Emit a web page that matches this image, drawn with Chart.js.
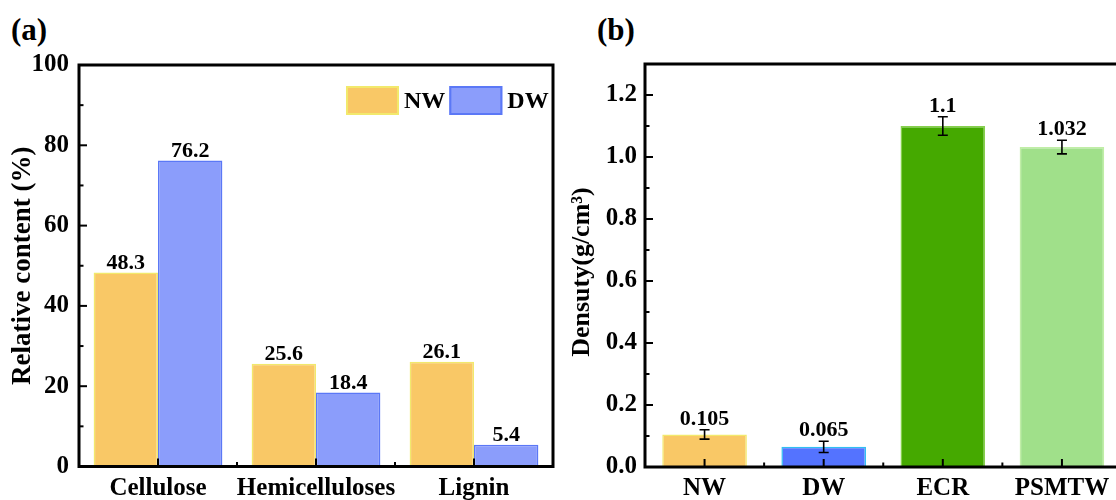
<!DOCTYPE html>
<html>
<head>
<meta charset="utf-8">
<script src="https://cdn.jsdelivr.net/npm/chart.js@4/dist/chart.umd.min.js"></script>
<style>
  html, body { margin:0; padding:0; background:#fff; }
  body { width:1116px; height:500px; overflow:hidden; position:relative; }
  canvas { position:absolute; top:0; }
  .panel { position:absolute; font-family:'Liberation Serif','Times New Roman',serif; font-weight:bold; font-size:31px; line-height:31px; color:#000; }
</style>
</head>
<body>
<div class="panel" style="left:11px;top:14px;">(a)</div>
<div class="panel" style="left:597px;top:14px;">(b)</div>
<canvas id="ca" width="560" height="500" style="left:0"></canvas>
<canvas id="cb" width="570" height="500" style="left:560px"></canvas>
<script>
// ---------- data ----------
const partCategories = ['Cellulose', 'Hemicelluloses', 'Lignin'];
const nwContent = [48.3, 25.6, 26.1];
const dwContent = [76.2, 18.4, 5.4];
const contentTicks = [0, 20, 40, 60, 80, 100];

const densityCategories = ['NW', 'DW', 'ECR', 'PSMTW'];
const densityValues = [0.105, 0.065, 1.1, 1.032];
const densityErrors = [0.015, 0.018, 0.03, 0.022];
const densityTicks = [0.0, 0.2, 0.4, 0.6, 0.8, 1.0, 1.2];
const densityTickLabels = ['0.0', '0.2', '0.4', '0.6', '0.8', '1.0', '1.2'];

// ---------- styling ----------
const FAMILY = "'Liberation Serif','Times New Roman',serif";
const tickFont = { family: FAMILY, weight: 'bold', size: 25 };

// plugin: frame, inward ticks, error bars, value labels, legend
const decorPlugin = {
  id: 'decor',
  afterDatasetsDraw(chart, args, opts) {
    const { ctx, chartArea: a, scales } = chart;
    const x = scales.x, y = scales.y;
    ctx.save();
    ctx.strokeStyle = '#000';
    ctx.fillStyle = '#000';

    // error bars
    if (opts.errors) {
      ctx.lineWidth = 1.6;
      const vals = chart.data.datasets[0].data;
      opts.errors.forEach((e, i) => {
        const px = x.getPixelForValue(i);
        const yt = y.getPixelForValue(vals[i] + e);
        const yb = y.getPixelForValue(vals[i] - e);
        ctx.beginPath();
        ctx.moveTo(px, yt); ctx.lineTo(px, yb);
        ctx.moveTo(px - 5, yt); ctx.lineTo(px + 5, yt);
        ctx.moveTo(px - 5, yb); ctx.lineTo(px + 5, yb);
        ctx.stroke();
      });
    }

    // value labels
    ctx.font = 'bold 22px ' + FAMILY;
    ctx.textAlign = 'center';
    ctx.textBaseline = 'alphabetic';
    chart.data.datasets.forEach((ds, di) => {
      const meta = chart.getDatasetMeta(di);
      meta.data.forEach((bar, i) => {
        let top = bar.y;
        if (opts.errors) top = y.getPixelForValue(ds.data[i] + opts.errors[i]);
        const txt = opts.labels ? opts.labels[i] : String(ds.data[i]);
        ctx.fillText(txt, bar.x, top - (opts.errors ? 5 : 4));
      });
    });

    // inward ticks
    ctx.lineWidth = 2;
    const yt = y.ticks.map(t => t.value);
    yt.forEach((v, i) => {
      const py = y.getPixelForValue(v);
      if (py > a.top + 2 && py < a.bottom - 2) {
        ctx.beginPath(); ctx.moveTo(a.left, py); ctx.lineTo(a.left + 8, py); ctx.stroke();
      }
      if (i < yt.length - 1) {
        const pm = y.getPixelForValue((v + yt[i + 1]) / 2);
        ctx.beginPath(); ctx.moveTo(a.left, pm); ctx.lineTo(a.left + 4.5, pm); ctx.stroke();
      }
    });
    const n = chart.data.labels.length;
    for (let i = 0; i < n; i++) {
      const px = x.getPixelForTick(i);
      ctx.beginPath(); ctx.moveTo(px, a.bottom); ctx.lineTo(px, a.bottom - 8); ctx.stroke();
      if (i < n - 1) {
        const pm = (px + x.getPixelForTick(i + 1)) / 2;
        ctx.beginPath(); ctx.moveTo(pm, a.bottom); ctx.lineTo(pm, a.bottom - 4.5); ctx.stroke();
      }
    }

    // frame
    ctx.lineWidth = 3;
    ctx.strokeRect(a.left, a.top, a.right - a.left, a.bottom - a.top);

    // legend
    if (opts.legend) {
      const L = opts.legend;
      let lx = a.right - L.fromRight;
      const ly = a.top + L.top;
      ctx.font = 'bold 24px ' + FAMILY;
      ctx.textAlign = 'left';
      ctx.textBaseline = 'middle';
      chart.data.datasets.forEach(ds => {
        ctx.fillStyle = ds.backgroundColor;
        ctx.fillRect(lx, ly, L.boxW, L.boxH);
        ctx.strokeStyle = ds.borderColor;
        ctx.lineWidth = 2;
        ctx.strokeRect(lx + 1, ly + 1, L.boxW - 2, L.boxH - 2);
        ctx.fillStyle = '#000';
        ctx.fillText(ds.label, lx + L.boxW + 5, ly + L.boxH / 2 + 1);
        lx += L.boxW + 5 + ctx.measureText(ds.label).width + 4;
      });
    }
    ctx.restore();
  }
};

// ---------- chart (a) ----------
new Chart(document.getElementById('ca'), {
  type: 'bar',
  data: {
    labels: partCategories,
    datasets: [
      { label: 'NW', data: nwContent, backgroundColor: '#F9C866', borderColor: '#F2E96C', borderWidth: 1.5,
        categoryPercentage: 0.815, barPercentage: 1.0 },
      { label: 'DW', data: dwContent, backgroundColor: '#8B9DFB', borderColor: '#5B78F6', borderWidth: 1.5,
        categoryPercentage: 0.815, barPercentage: 1.0 }
    ]
  },
  options: {
    responsive: false, animation: false, devicePixelRatio: 1,
    layout: { padding: { left: 0, top: 65, right: 7, bottom: 0 } },
    plugins: {
      legend: { display: false }, tooltip: { enabled: false },
      decor: { legend: { fromRight: 207, top: 21, boxW: 53, boxH: 29 } }
    },
    scales: {
      x: {
        offset: true,
        grid: { display: false, drawTicks: false },
        border: { display: false },
        ticks: { font: tickFont, color: '#000', padding: 7, maxRotation: 0, autoSkip: false },
        afterFit: s => { s.height = 33.5; }
      },
      y: {
        min: 0, max: 100,
        grid: { display: false, drawTicks: false },
        border: { display: false },
        afterBuildTicks: s => { s.ticks = contentTicks.map(v => ({ value: v })); },
        ticks: { font: tickFont, color: '#000', padding: 10 },
        title: { display: true, text: 'Relative content (%)', color: '#000',
                 font: { family: FAMILY, weight: 'bold', size: 27 }, padding: { top: 7, bottom: 0 } },
        afterFit: s => { s.width = 79; }
      }
    }
  },
  plugins: [decorPlugin]
});

// ---------- chart (b) ----------
new Chart(document.getElementById('cb'), {
  type: 'bar',
  data: {
    labels: densityCategories,
    datasets: [
      { label: 'Density', data: densityValues,
        backgroundColor: ['#F9C866', '#5473FF', '#45A900', '#A0E08A'],
        borderColor: ['#F2E96C', '#30BFF2', '#86D04C', '#C0EEA6'],
        borderWidth: 1.5, categoryPercentage: 0.71, barPercentage: 1.0 }
    ]
  },
  options: {
    responsive: false, animation: false, devicePixelRatio: 1,
    layout: { padding: { left: 0, top: 64, right: 8.5, bottom: 0 } },
    plugins: {
      legend: { display: false }, tooltip: { enabled: false },
      decor: { errors: densityErrors, labels: densityValues.map(String) }
    },
    scales: {
      x: {
        offset: true,
        grid: { display: false, drawTicks: false },
        border: { display: false },
        ticks: { font: tickFont, color: '#000', padding: 7, maxRotation: 0, autoSkip: false },
        afterFit: s => { s.height = 33; }
      },
      y: {
        min: 0, max: 1.3,
        grid: { display: false, drawTicks: false },
        border: { display: false },
        afterBuildTicks: s => { s.ticks = densityTicks.map(v => ({ value: v })); },
        ticks: { font: tickFont, color: '#000', padding: 8,
                 callback: (v, i) => densityTickLabels[i] },
        title: { display: true, text: 'Densuty(g/cm³)  ', color: '#000',
                 font: { family: FAMILY, weight: 'bold', size: 26 }, padding: { top: 7, bottom: 0 } },
        afterFit: s => { s.width = 85; }
      }
    }
  },
  plugins: [decorPlugin]
});
</script>
</body>
</html>
